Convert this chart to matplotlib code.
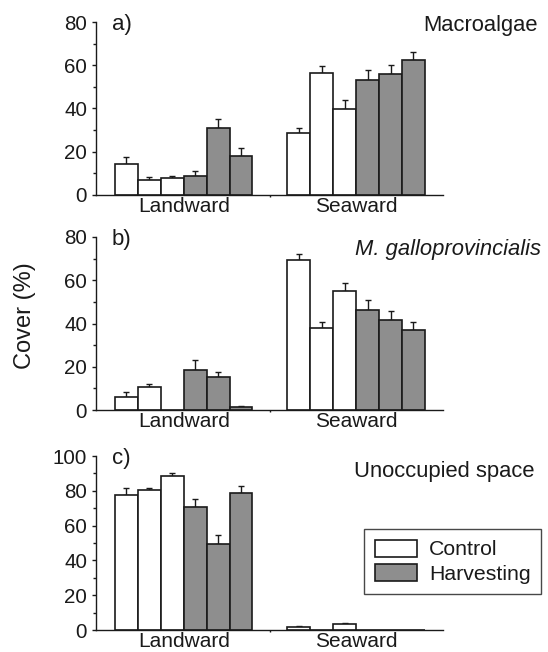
import numpy as np
import matplotlib
matplotlib.use("Agg")
import matplotlib.pyplot as plt
from matplotlib.patches import Patch

plt.rcParams['font.family'] = ['Liberation Sans', 'DejaVu Sans']

# three Control bars then three Harvesting bars in each group
groups = ["Landward", "Seaward"]
treatments = ["Control"] * 3 + ["Harvesting"] * 3

macro_land = [14.3, 6.9, 7.8, 8.9, 30.8, 18.0]
macro_land_se = [3.1, 1.6, 1.1, 2.2, 4.3, 3.7]
macro_sea = [28.5, 56.6, 39.7, 53.2, 55.8, 62.3]
macro_sea_se = [2.7, 3.1, 4.0, 4.5, 4.2, 3.7]

mussel_land = [6.2, 10.8, 0.0, 18.5, 15.4, 1.5]
mussel_land_se = [2.1, 1.0, 0.0, 4.5, 2.1, 0.5]
mussel_sea = [69.2, 38.0, 55.1, 46.2, 41.5, 36.9]
mussel_sea_se = [3.1, 2.9, 3.8, 4.6, 4.2, 3.9]

space_land = [77.6, 80.3, 88.5, 70.9, 49.6, 78.9]
space_land_se = [4.2, 1.5, 1.5, 4.2, 4.8, 3.7]
space_sea = [1.5, 0.0, 3.3, 0.0, 0.0, 0.0]
space_sea_se = [1.0, 0.0, 0.9, 0.0, 0.0, 0.0]

panels = [
    ("a)", "Macroalgae", "normal", macro_land, macro_land_se, macro_sea, macro_sea_se, 80),
    ("b)", "M. galloprovincialis", "italic", mussel_land, mussel_land_se, mussel_sea, mussel_sea_se, 80),
    ("c)", "Unoccupied space", "normal", space_land, space_land_se, space_sea, space_sea_se, 100),
]

colours = {"Control": "white", "Harvesting": "#8e8e8e"}
edge = "#1a1a1a"

W, H = 548, 652
fig = plt.figure(figsize=(W / 100, H / 100), dpi=100)

# axes boxes in pixels: (bottom y of zero line, top y)
boxes = [(195, 22), (410, 237), (630, 456)]
name_baselines = [31, 255, 477]
name_right = [538, 541, 535]
ax_left, ax_right = 96, 443

land_x = np.arange(6)
sea_x = np.arange(6) + 7.53
mid_tick = 6.27

for (tag, name, style, land, land_se, sea, sea_se, ymax), (y0, y1), nb, nr in zip(
        panels, boxes, name_baselines, name_right):
    ax = fig.add_axes([ax_left / W, 1 - y0 / H, (ax_right - ax_left) / W, (y0 - y1) / H])
    xs = np.concatenate([land_x, sea_x])
    vals = np.array(land + sea)
    ses = np.array(land_se + sea_se)
    cols = [colours[t] for t in treatments * 2]
    ax.bar(xs, vals, width=1.0, color=cols, edgecolor=edge, linewidth=1.2, zorder=2)
    has = ses > 0
    ax.errorbar(xs[has], vals[has], yerr=[np.zeros(has.sum()), ses[has]],
                fmt="none", ecolor=edge, elinewidth=1.0, capsize=2.5, capthick=1.0, zorder=1)

    ax.set_xlim(-1.33, 13.82)
    ax.set_ylim(0, ymax)
    for s in ["top", "right"]:
        ax.spines[s].set_visible(False)
    for s in ["left", "bottom"]:
        ax.spines[s].set_linewidth(1.0)
        ax.spines[s].set_color(edge)

    ax.set_yticks(np.arange(0, ymax + 1, 20))
    ax.set_yticks(np.arange(10, ymax, 20), minor=True)
    ax.set_xticks([2.5, sea_x.mean()])
    ax.set_xticklabels(groups)
    ax.set_xticks([mid_tick], minor=True)
    ax.tick_params(axis="y", which="major", length=3.2, width=1.0, pad=3.2,
                   labelsize=14.8, colors=edge, direction="out")
    ax.tick_params(axis="y", which="minor", length=2.0, width=1.0, direction="out", colors=edge)
    ax.tick_params(axis="x", which="major", length=0, pad=1.2, labelsize=15, colors=edge)
    ax.tick_params(axis="x", which="minor", length=1.5, width=1.0, colors=edge)

    ax.text(0.046, 1 - 2.5 / (y0 - y1), tag, transform=ax.transAxes,
            fontsize=16, ha="left", va="center", color=edge)
    fig.text(nr / W, 1 - nb / H, name, fontsize=15.8, style=style,
             ha="right", va="baseline", color=edge)

fig.text(25 / W, 1 - 316 / H, "Cover (%)", rotation=90, fontsize=17,
         ha="center", va="center", color=edge)

handles = [Patch(facecolor=colours[t], edgecolor=edge, linewidth=1.2, label=t)
           for t in ["Control", "Harvesting"]]
leg = fig.legend(handles=handles, loc="upper left", bbox_to_anchor=(364 / W, 1 - 529 / H),
                 frameon=True, fancybox=False, fontsize=15.3, handlelength=2.0,
                 handleheight=0.85, handletextpad=0.55, labelspacing=0.2,
                 borderpad=0.5, borderaxespad=0)
leg.get_frame().set_edgecolor(edge)
leg.get_frame().set_linewidth(1.0)
for t in leg.get_texts():
    t.set_color(edge)

fig.savefig("out.png", dpi=100)
